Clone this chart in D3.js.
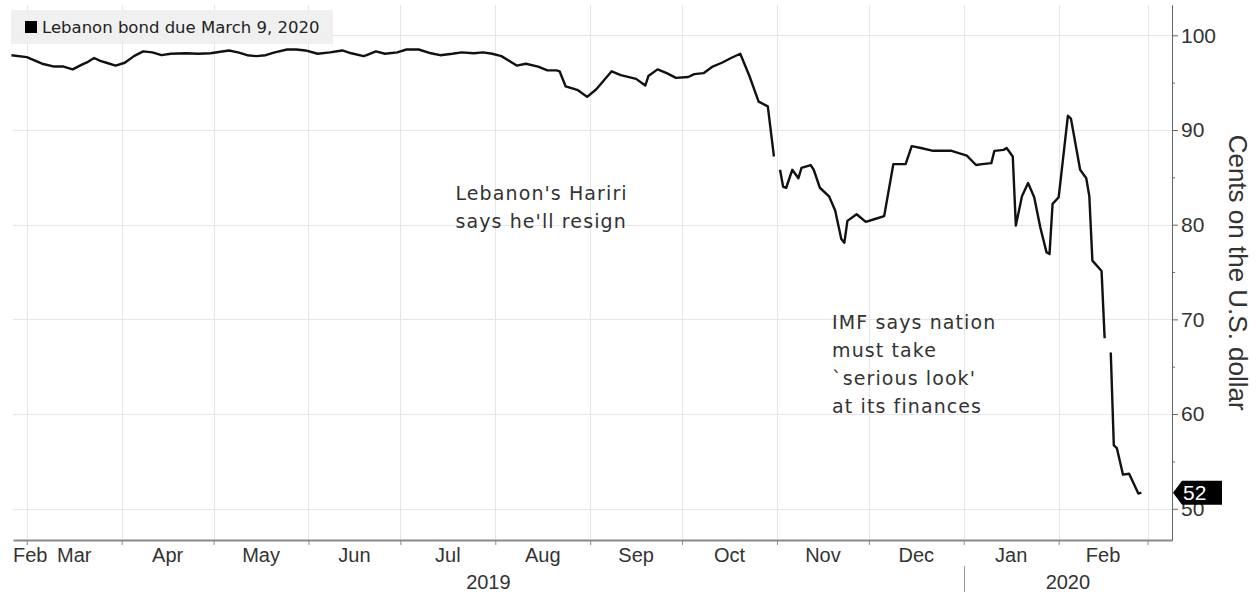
<!DOCTYPE html>
<html>
<head>
<meta charset="utf-8">
<script src="https://cdn.jsdelivr.net/npm/d3@7"></script>
<style>
  html, body { margin: 0; padding: 0; background: #fff; }
  svg { display: block; }
  .axis-text { font-family: "Liberation Sans", Arial, sans-serif; font-size: 20px; fill: #333; }
  .note-text { font-family: "DejaVu Sans", sans-serif; font-size: 19px; letter-spacing: 1.1px; fill: #333; }
  .legend-text { font-family: "DejaVu Sans", sans-serif; font-size: 16.5px; fill: #222; }
</style>
</head>
<body>
<div id="chart"></div>
<script>
// price of the Lebanon eurobond due March 9, 2020 (cents on the dollar)
const dates = [
  "2019-02-24", "2019-03-01", "2019-03-06", "2019-03-10", "2019-03-13", "2019-03-16",
  "2019-03-19", "2019-03-21", "2019-03-23", "2019-03-25", "2019-03-27", "2019-03-30",
  "2019-04-02", "2019-04-05", "2019-04-08", "2019-04-11", "2019-04-14", "2019-04-17",
  "2019-04-22", "2019-04-26", "2019-04-30", "2019-05-06", "2019-05-09", "2019-05-12",
  "2019-05-15", "2019-05-18", "2019-05-21", "2019-05-25", "2019-05-28", "2019-05-31",
  "2019-06-04", "2019-06-08", "2019-06-12", "2019-06-15", "2019-06-19", "2019-06-20",
  "2019-06-23", "2019-06-26", "2019-06-30", "2019-07-03", "2019-07-07", "2019-07-11",
  "2019-07-14", "2019-07-18", "2019-07-21", "2019-07-25", "2019-07-28", "2019-07-31",
  "2019-08-03", "2019-08-06", "2019-08-08", "2019-08-11", "2019-08-15", "2019-08-18",
  "2019-08-21", "2019-08-22", "2019-08-24", "2019-08-28", "2019-08-31", "2019-09-03",
  "2019-09-08", "2019-09-11", "2019-09-16", "2019-09-19", "2019-09-20", "2019-09-23",
  "2019-09-26", "2019-09-29", "2019-10-03", "2019-10-05", "2019-10-08", "2019-10-11",
  "2019-10-14", "2019-10-17", "2019-10-20", "2019-10-23", "2019-10-26", "2019-10-29",
  "2019-10-31", "2019-11-01", "2019-11-02", "2019-11-03", "2019-11-04", "2019-11-06",
  "2019-11-08", "2019-11-09", "2019-11-12", "2019-11-13", "2019-11-15", "2019-11-18",
  "2019-11-20", "2019-11-22", "2019-11-23", "2019-11-24", "2019-11-27", "2019-11-30",
  "2019-12-03", "2019-12-06", "2019-12-09", "2019-12-13", "2019-12-15", "2019-12-18",
  "2019-12-22", "2019-12-28", "2020-01-02", "2020-01-05", "2020-01-07", "2020-01-10",
  "2020-01-11", "2020-01-14", "2020-01-15", "2020-01-17", "2020-01-18", "2020-01-20",
  "2020-01-22", "2020-01-24", "2020-01-26", "2020-01-28", "2020-01-29", "2020-01-30",
  "2020-02-01", "2020-02-04", "2020-02-05", "2020-02-08", "2020-02-10", "2020-02-11",
  "2020-02-12", "2020-02-15", "2020-02-16", "2020-02-17", "2020-02-18", "2020-02-19",
  "2020-02-20", "2020-02-22", "2020-02-24", "2020-02-27", "2020-02-28"
];
const prices = [
  97.9, 97.7, 97.0, 96.7, 96.7, 96.4,
  96.9, 97.2, 97.6, 97.3, 97.1, 96.8,
  97.1, 97.8, 98.3, 98.2, 97.9, 98.05,
  98.1, 98.05, 98.1, 98.4, 98.2, 97.9,
  97.8, 97.9, 98.2, 98.5, 98.5, 98.4,
  98.05, 98.2, 98.4, 98.1, 97.8, 97.9,
  98.3, 98.05, 98.2, 98.5, 98.5, 98.1,
  97.9, 98.05, 98.2, 98.1, 98.2, 98.05,
  97.8, 97.2, 96.8, 97.0, 96.7, 96.3,
  96.3, 96.2, 94.6, 94.2, 93.5, 94.3,
  96.2, 95.8, 95.4, 94.7, 95.7, 96.4,
  96.0, 95.5, 95.6, 95.9, 96.0, 96.7,
  97.1, 97.6, 98.05, 95.7, 93.0, 92.5,
  87.2, null, 85.8, 84.0, 83.9, 85.8,
  84.9, 86.0, 86.3, 85.8, 83.9, 83.0,
  81.5, 78.5, 78.1, 80.4, 81.1, 80.3,
  80.6, 80.9, 86.4, 86.4, 88.3, 88.1,
  87.8, 87.8, 87.3, 86.3, 86.4, 86.5,
  87.8, 87.9, 88.1, 87.2, 79.9, 83.0,
  84.4, 82.9, 79.7, 77.1, 76.9, 82.2,
  82.9, 91.5, 91.2, 85.8, 84.9, 83.0,
  76.2, 75.1, 68.0, null, 66.5, 56.7,
  56.4, 53.6, 53.7, 51.6, 51.7
];

const seriesName = "Lebanon bond due March 9, 2020";
const yTicks = [50, 60, 70, 80, 90, 100];
const yMinorTicks = [55, 65, 75, 85, 95];
const yTitle = "Cents on the U.S. dollar";
const lastLabel = "52";
const noteHariri = ["Lebanon's Hariri", "says he'll resign"];
const noteImf = ["IMF says nation", "must take", "`serious look'", "at its finances"];

const width = 1260;
const height = 592;
const plot = { left: 13, right: 1172, top: 5, bottom: 540 };

const parse = d3.timeParse("%Y-%m-%d");
const data = dates.map((d, i) => ({ date: parse(d), value: prices[i] }));

const x = d3
  .scaleTime()
  .domain([new Date(2019, 1, 24, 12), new Date(2020, 2, 9)])
  .range([plot.left, plot.right]);
const y = d3.scaleLinear().domain([46.7, 103.2]).range([plot.bottom, plot.top]);

const svg = d3
  .select("#chart")
  .append("svg")
  .attr("width", width)
  .attr("height", height);

const months = d3.timeMonth.range(d3.timeMonth.ceil(x.domain()[0]), x.domain()[1]);

// grid
const grid = svg.append("g").attr("stroke", "#e6e6e6").attr("stroke-width", 1);
grid
  .selectAll(".grid-v")
  .data(months)
  .join("line")
  .attr("x1", (d) => Math.round(x(d)) + 0.5)
  .attr("x2", (d) => Math.round(x(d)) + 0.5)
  .attr("y1", plot.top)
  .attr("y2", plot.bottom);
grid
  .selectAll(".grid-h")
  .data(yTicks)
  .join("line")
  .attr("x1", plot.left)
  .attr("x2", plot.right)
  .attr("y1", (d) => Math.round(y(d)) + 0.5)
  .attr("y2", (d) => Math.round(y(d)) + 0.5);

// x axis: ticks at month starts, labels centred in each month
svg
  .append("g")
  .attr("transform", `translate(0,${plot.bottom})`)
  .call(d3.axisBottom(x).tickValues(months).tickSize(5).tickSizeOuter(0).tickFormat(""))
  .call((g) => g.selectAll("line, path").attr("stroke", "#8a8a8a"))
  .call((g) => g.select(".domain").attr("stroke-width", 2));

const monthSpans = [x.domain()[0], ...months].map((m, i, arr) => ({
  start: m,
  end: i < arr.length - 1 ? arr[i + 1] : x.domain()[1],
}));
svg
  .append("g")
  .selectAll("text")
  .data(monthSpans.filter((d) => x(d.end) - x(d.start) > 40 || d.start < months[0]))
  .join("text")
  .attr("class", "axis-text")
  .attr("text-anchor", (d) => (d.start < months[0] ? "start" : "middle"))
  .attr("x", (d) => (d.start < months[0] ? plot.left : (x(d.start) + x(d.end)) / 2))
  .attr("y", 562)
  .text((d) => d3.timeFormat("%b")(d.start < months[0] ? d.end - 86400000 * 3 : d.start));

// years
const yearStart = new Date(2020, 0, 1);
svg
  .append("line")
  .attr("x1", Math.round(x(yearStart)) + 0.5)
  .attr("x2", Math.round(x(yearStart)) + 0.5)
  .attr("y1", 566)
  .attr("y2", height)
  .attr("stroke", "#9a9a9a");
svg
  .append("g")
  .selectAll("text")
  .data([
    [x.domain()[0], yearStart],
    [yearStart, x.domain()[1]],
  ])
  .join("text")
  .attr("class", "axis-text")
  .attr("text-anchor", "middle")
  .attr("x", (d) => (x(d[0]) + x(d[1])) / 2)
  .attr("y", 589)
  .text((d) => d3.timeFormat("%Y")(d[1] - 86400000));

// right y axis
svg
  .append("g")
  .attr("transform", `translate(${plot.right},0)`)
  .call(d3.axisRight(y).tickValues(yMinorTicks).tickSize(3).tickSizeOuter(0).tickFormat(""))
  .call((g) => g.selectAll("line, path").attr("stroke", "#666"));
svg
  .append("g")
  .attr("transform", `translate(${plot.right},0)`)
  .call(d3.axisRight(y).tickValues(yTicks).tickSize(6).tickPadding(3).tickSizeOuter(0))
  .call((g) => g.selectAll("line, path").attr("stroke", "#666"))
  .call((g) => g.selectAll(".tick text").attr("class", "axis-text").style("font-size", "21px"));

svg
  .append("text")
  .attr("class", "axis-text")
  .style("font-size", "26px")
  .attr("text-anchor", "middle")
  .attr("transform", `translate(1229,${(y(100) + y(60)) / 2 + 48}) rotate(90)`)
  .text(yTitle);

// the price line
const line = d3
  .line()
  .defined((d) => d.value !== null)
  .x((d) => x(d.date))
  .y((d) => y(d.value));
svg
  .append("path")
  .datum(data)
  .attr("fill", "none")
  .attr("stroke", "#111")
  .attr("stroke-width", 2.4)
  .attr("stroke-linejoin", "round")
  .attr("d", line);

// last value tag
const last = data[data.length - 1];
const ly = y(last.value);
svg
  .append("path")
  .attr("fill", "#000")
  .attr(
    "d",
    `M${plot.right + 1},${ly} L${plot.right + 10},${ly - 12} H${plot.right + 50} V${ly + 12} H${plot.right + 10} Z`
  );
svg
  .append("text")
  .attr("class", "axis-text")
  .style("fill", "#fff")
  .style("font-size", "21px")
  .attr("x", plot.right + 11)
  .attr("y", ly)
  .attr("dy", "0.35em")
  .text(lastLabel);

// legend
svg
  .append("rect")
  .attr("x", 11)
  .attr("y", 10)
  .attr("width", 322)
  .attr("height", 34)
  .attr("fill", "#eeeeee")
  .attr("fill-opacity", 0.9);
svg.append("rect").attr("x", 25).attr("y", 21).attr("width", 12).attr("height", 12).attr("fill", "#000");
svg
  .append("text")
  .attr("class", "legend-text")
  .attr("x", 42)
  .attr("y", 27)
  .attr("dy", "0.35em")
  .text(seriesName);

// annotations
function note(lines, date, value) {
  svg
    .append("text")
    .attr("class", "note-text")
    .selectAll("tspan")
    .data(lines)
    .join("tspan")
    .attr("x", x(date))
    .attr("y", (d, i) => y(value) + i * 28)
    .text((d) => d);
}
note(noteHariri, new Date(2019, 6, 19), 82.6);
note(noteImf, new Date(2019, 10, 19), 69.0);
</script>
</body>
</html>
